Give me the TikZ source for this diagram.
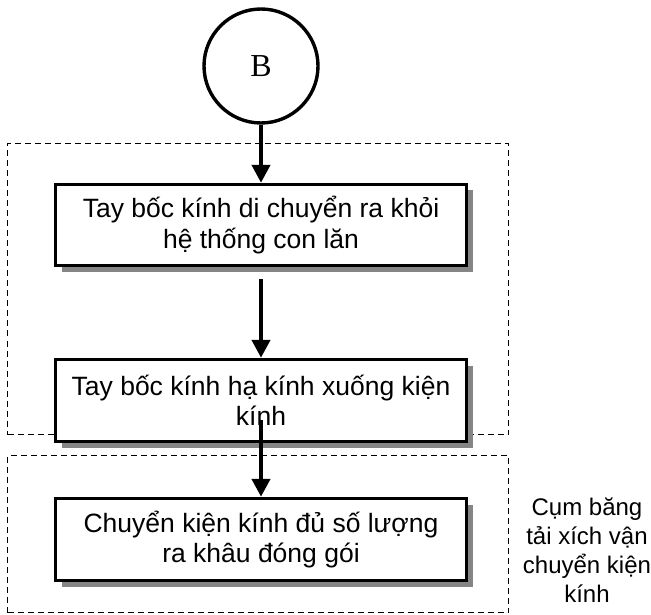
\documentclass[tikz,border=0pt]{standalone}
\usepackage{fontspec}
\setmainfont{Liberation Sans}
\newfontfamily\serifB{Liberation Serif}
\usetikzlibrary{arrows.meta,shadows}

\begin{document}
\begin{tikzpicture}[x=1pt,y=-1pt,
  stepbox/.style={draw, line width=3.4pt, fill=white, minimum width=411pt,
    minimum height=81pt, inner sep=0pt, align=center,
    font=\fontsize{26.5}{30.5}\selectfont,
    drop shadow={shadow xshift=6pt, shadow yshift=-6pt, opacity=1, fill=black!48}},
  groupbox/.style={draw, line width=1.5pt, dash pattern=on 6pt off 4pt,
    minimum width=501pt, inner sep=0pt},
  flow/.style={line width=4.2pt, -{Triangle[length=18pt,width=18pt]}},
]
\useasboundingbox (0,0) rectangle (651,615);

% dashed groups
\node (g1) [groupbox, minimum height=291pt] at (258,289) {};
\node (g2) [groupbox, minimum height=157pt] at (258,534) {};

% start connector
\node (B) [circle, draw, line width=3.4pt, minimum size=114pt, inner sep=0pt,
  font=\serifB\fontsize{32}{36}\selectfont] at (261,66) {B};

% process steps
\node (b1) [stepbox, minimum height=81pt] at (261,225) {Tay bốc kính di chuyển ra khỏi\\hệ thống con lăn};
\node (b2) [stepbox, minimum height=82pt] at (261,400.5) {Tay bốc kính hạ kính xuống kiện\\kính};
\node (b3) [stepbox, minimum height=82pt] at (261,539.5) {Chuyển kiện kính đủ số lượng\\ra khâu đóng gói};

% group label
\node (lbl) [align=center, font=\fontsize{24}{29}\selectfont] at (587,550)
  {Cụm băng\\tải xích vận\\chuyển kiện\\kính};

% connectors
\coordinate (a3) at (261,420);
\draw[flow] (B.south) -- (b1.north);
\draw[flow, shorten <=12pt] (b1.south) -- (b2.north);
\draw[flow] (a3) -- (b3.north);
\end{tikzpicture}
\end{document}
